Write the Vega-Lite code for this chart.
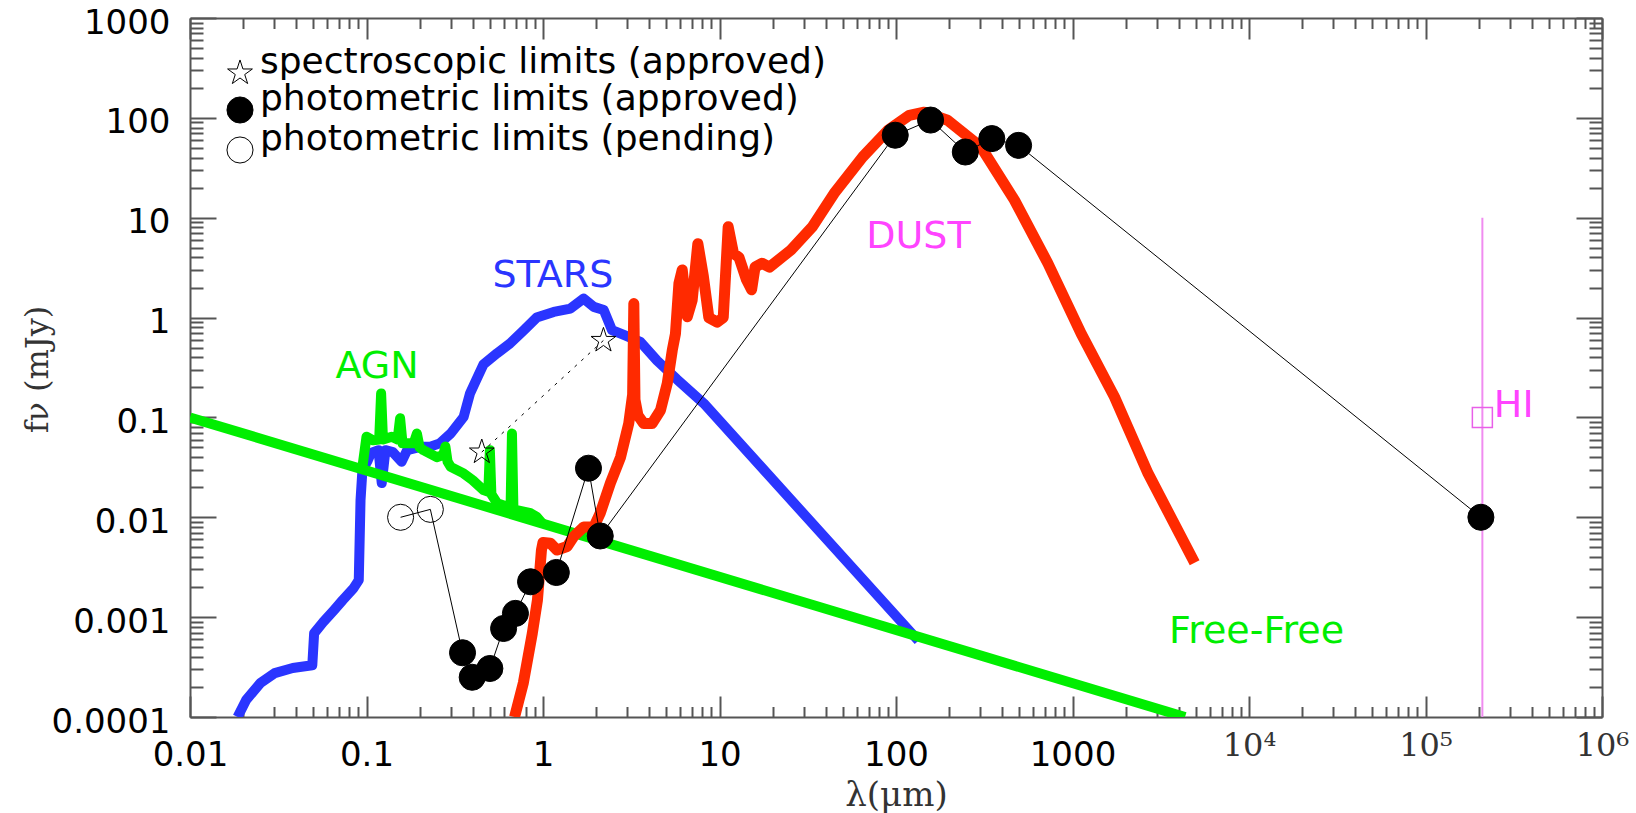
{
  "$schema": "https://vega.github.io/schema/vega-lite/v6.json",
  "width": 1412,
  "height": 699,
  "autosize": {"type": "none"},
  "padding": {"left": 190, "top": 18, "right": 34, "bottom": 96},
  "background": "white",
  "config": {
    "view": {"stroke": null},
    "axis": {"grid": false, "tickColor": "#555555", "tickWidth": 2, "domainColor": "#555555", "domainWidth": 2, "labelOverlap": false, "labelFlush": false, "labelBound": false}
  },
  "datasets": {
    "blue": [
      {"lam": 0.0186, "f": 0.0001}, {"lam": 0.0208, "f": 0.000148}, {"lam": 0.025, "f": 0.000218}, {"lam": 0.0302, "f": 0.000275},
      {"lam": 0.0382, "f": 0.00031}, {"lam": 0.0493, "f": 0.00033}, {"lam": 0.0505, "f": 0.00069}, {"lam": 0.0568, "f": 0.00089},
      {"lam": 0.0653, "f": 0.00117}, {"lam": 0.0733, "f": 0.00148}, {"lam": 0.0843, "f": 0.00194}, {"lam": 0.0904, "f": 0.00235},
      {"lam": 0.0925, "f": 0.0148}, {"lam": 0.0948, "f": 0.0295}, {"lam": 0.1016, "f": 0.037}, {"lam": 0.106, "f": 0.044},
      {"lam": 0.117, "f": 0.047}, {"lam": 0.122, "f": 0.022}, {"lam": 0.128, "f": 0.047}, {"lam": 0.141, "f": 0.045},
      {"lam": 0.158, "f": 0.036}, {"lam": 0.17, "f": 0.047}, {"lam": 0.205, "f": 0.051}, {"lam": 0.23, "f": 0.051},
      {"lam": 0.26, "f": 0.055}, {"lam": 0.3, "f": 0.069}, {"lam": 0.355, "f": 0.101}, {"lam": 0.386, "f": 0.174},
      {"lam": 0.42, "f": 0.24}, {"lam": 0.46, "f": 0.34}, {"lam": 0.55, "f": 0.44}, {"lam": 0.65, "f": 0.55},
      {"lam": 0.78, "f": 0.75}, {"lam": 0.92, "f": 1.0}, {"lam": 1.15, "f": 1.14}, {"lam": 1.43, "f": 1.23},
      {"lam": 1.7, "f": 1.55}, {"lam": 1.94, "f": 1.28}, {"lam": 2.21, "f": 1.19}, {"lam": 2.46, "f": 0.75},
      {"lam": 2.87, "f": 0.67}, {"lam": 3.56, "f": 0.57}, {"lam": 4.43, "f": 0.37}, {"lam": 5.75, "f": 0.24},
      {"lam": 8.15, "f": 0.138}, {"lam": 134, "f": 0.00058}
    ],
    "agn": [
      {"lam": 0.0948, "f": 0.032}, {"lam": 0.1, "f": 0.064}, {"lam": 0.109, "f": 0.059}, {"lam": 0.118, "f": 0.06},
      {"lam": 0.121, "f": 0.174}, {"lam": 0.124, "f": 0.06}, {"lam": 0.139, "f": 0.064}, {"lam": 0.15, "f": 0.06},
      {"lam": 0.155, "f": 0.098}, {"lam": 0.16, "f": 0.055}, {"lam": 0.185, "f": 0.055}, {"lam": 0.193, "f": 0.069},
      {"lam": 0.2, "f": 0.05}, {"lam": 0.21, "f": 0.047}, {"lam": 0.25, "f": 0.04}, {"lam": 0.272, "f": 0.042},
      {"lam": 0.28, "f": 0.051}, {"lam": 0.288, "f": 0.036}, {"lam": 0.3, "f": 0.032}, {"lam": 0.355, "f": 0.0275},
      {"lam": 0.4, "f": 0.0235}, {"lam": 0.46, "f": 0.0187}, {"lam": 0.49, "f": 0.018}, {"lam": 0.5, "f": 0.047},
      {"lam": 0.51, "f": 0.017}, {"lam": 0.55, "f": 0.0138}, {"lam": 0.655, "f": 0.0125}, {"lam": 0.667, "f": 0.069},
      {"lam": 0.68, "f": 0.012}, {"lam": 0.71, "f": 0.0118}, {"lam": 0.85, "f": 0.011}, {"lam": 0.92, "f": 0.0101},
      {"lam": 1.0, "f": 0.0085}
    ],
    "ff": [
      {"lam": 0.01, "f": 0.1}, {"lam": 4340, "f": 0.0001}
    ],
    "dust": [
      {"lam": 0.69, "f": 0.0001}, {"lam": 0.774, "f": 0.00022}, {"lam": 0.87, "f": 0.00069}, {"lam": 0.93, "f": 0.00148},
      {"lam": 0.98, "f": 0.0047}, {"lam": 1.0, "f": 0.0056}, {"lam": 1.1, "f": 0.0055}, {"lam": 1.2, "f": 0.0047},
      {"lam": 1.37, "f": 0.0051}, {"lam": 1.49, "f": 0.0064}, {"lam": 1.7, "f": 0.008}, {"lam": 1.94, "f": 0.008},
      {"lam": 2.11, "f": 0.011}, {"lam": 2.41, "f": 0.022}, {"lam": 2.75, "f": 0.04}, {"lam": 3.06, "f": 0.087},
      {"lam": 3.22, "f": 0.17}, {"lam": 3.27, "f": 1.38}, {"lam": 3.32, "f": 0.15}, {"lam": 3.45, "f": 0.105},
      {"lam": 3.72, "f": 0.087}, {"lam": 4.15, "f": 0.087}, {"lam": 4.63, "f": 0.118}, {"lam": 5.06, "f": 0.22},
      {"lam": 5.4, "f": 0.47}, {"lam": 5.63, "f": 0.69}, {"lam": 5.89, "f": 2.2}, {"lam": 6.15, "f": 3.0},
      {"lam": 6.57, "f": 1.02}, {"lam": 7.0, "f": 1.49}, {"lam": 7.54, "f": 5.5}, {"lam": 8.1, "f": 2.6},
      {"lam": 8.7, "f": 1.0}, {"lam": 9.7, "f": 0.9}, {"lam": 10.5, "f": 1.0}, {"lam": 11.2, "f": 8.1},
      {"lam": 12.0, "f": 4.4}, {"lam": 12.9, "f": 4.0}, {"lam": 14.2, "f": 2.4}, {"lam": 15.2, "f": 1.9},
      {"lam": 15.9, "f": 3.2}, {"lam": 17.4, "f": 3.5}, {"lam": 19.2, "f": 3.2}, {"lam": 25.4, "f": 4.75},
      {"lam": 33.6, "f": 8.1}, {"lam": 44.6, "f": 17.5}, {"lam": 64.8, "f": 40.7}, {"lam": 90, "f": 75},
      {"lam": 119, "f": 106}, {"lam": 144.5, "f": 114}, {"lam": 196, "f": 94.6}, {"lam": 303, "f": 51},
      {"lam": 469, "f": 15}, {"lam": 725, "f": 3.5}, {"lam": 1120, "f": 0.69}, {"lam": 1730, "f": 0.16},
      {"lam": 2680, "f": 0.0275}, {"lam": 4920, "f": 0.0035}
    ],
    "pts": [
      {"lam": 0.45, "f": 0.045, "kind": "spectroscopic limits (approved)"},
      {"lam": 2.2, "f": 0.59, "kind": "spectroscopic limits (approved)"},
      {"lam": 0.156, "f": 0.01, "kind": "photometric limits (pending)"},
      {"lam": 0.23, "f": 0.012, "kind": "photometric limits (pending)"},
      {"lam": 0.35, "f": 0.00044, "kind": "photometric limits (approved)"},
      {"lam": 0.397, "f": 0.00025, "kind": "photometric limits (approved)"},
      {"lam": 0.5, "f": 0.000306, "kind": "photometric limits (approved)"},
      {"lam": 0.598, "f": 0.00077, "kind": "photometric limits (approved)"},
      {"lam": 0.698, "f": 0.00109, "kind": "photometric limits (approved)"},
      {"lam": 0.85, "f": 0.00226, "kind": "photometric limits (approved)"},
      {"lam": 1.19, "f": 0.0028, "kind": "photometric limits (approved)"},
      {"lam": 1.81, "f": 0.031, "kind": "photometric limits (approved)"},
      {"lam": 2.11, "f": 0.0065, "kind": "photometric limits (approved)"},
      {"lam": 99, "f": 67, "kind": "photometric limits (approved)"},
      {"lam": 157, "f": 95, "kind": "photometric limits (approved)"},
      {"lam": 247, "f": 45.5, "kind": "photometric limits (approved)"},
      {"lam": 349, "f": 62, "kind": "photometric limits (approved)"},
      {"lam": 495, "f": 53, "kind": "photometric limits (approved)"},
      {"lam": 206000, "f": 0.01, "kind": "photometric limits (approved)"}
    ],
    "hi": [{"lam": 210000, "f": 10, "f2": 0.0001}],
    "hisq": [{"lam": 210000, "f": 0.1}],
    "labels": [
      {"text": "STARS", "comp": "stars", "lam": 1.137, "f": 2.03},
      {"text": "AGN", "comp": "agn", "lam": 0.1148, "f": 0.249},
      {"text": "DUST", "comp": "dust", "lam": 134, "f": 4.92},
      {"text": "Free-Free", "comp": "ff", "lam": 11040, "f": 0.000555},
      {"text": "HI", "comp": "hi", "lam": 316000, "f": 0.1}
    ]
  },
  "resolve": {"axis": {"x": "independent", "y": "independent"}},
  "layer": [
    {
      "data": {"name": "blue"},
      "mark": {"type": "line", "color": "#2a35ff", "strokeWidth": 10, "strokeJoin": "round", "clip": true},
      "encoding": {
        "x": {"field": "lam", "type": "quantitative", "scale": {"type": "log", "domain": [0.01, 1000000], "nice": false},
          "axis": {"orient": "bottom", "title": null, "labels": false, "domain": false, "tickSize": -10.5,
            "values": [0.02,0.03,0.04,0.05,0.06,0.07,0.08,0.09,0.2,0.3,0.4,0.5,0.6,0.7,0.8,0.9,2,3,4,5,6,7,8,9,20,30,40,50,60,70,80,90,200,300,400,500,600,700,800,900,2000,3000,4000,5000,6000,7000,8000,9000,20000,30000,40000,50000,60000,70000,80000,90000,200000,300000,400000,500000,600000,700000,800000,900000]}},
        "y": {"field": "f", "type": "quantitative", "scale": {"type": "log", "domain": [0.0001, 1000], "nice": false},
          "axis": {"orient": "left", "title": null, "labels": false, "domain": false, "tickSize": -13,
            "values": [0.0002,0.0003,0.0004,0.0005,0.0006,0.0007,0.0008,0.0009,0.002,0.003,0.004,0.005,0.006,0.007,0.008,0.009,0.02,0.03,0.04,0.05,0.06,0.07,0.08,0.09,0.2,0.3,0.4,0.5,0.6,0.7,0.8,0.9,2,3,4,5,6,7,8,9,20,30,40,50,60,70,80,90,200,300,400,500,600,700,800,900]}}
      }
    },
    {
      "data": {"name": "agn"},
      "mark": {"type": "line", "color": "#00ee00", "strokeWidth": 10, "strokeJoin": "round", "clip": true},
      "encoding": {
        "x": {"field": "lam", "type": "quantitative", "scale": {"type": "log", "domain": [0.01, 1000000], "nice": false},
          "axis": {"orient": "bottom", "title": null, "labels": false, "domain": false, "tickSize": -21,
            "values": [0.01,0.1,1,10,100,1000,10000,100000,1000000]}},
        "y": {"field": "f", "type": "quantitative", "scale": {"type": "log", "domain": [0.0001, 1000], "nice": false},
          "axis": {"orient": "left", "title": null, "labels": false, "domain": false, "tickSize": -26,
            "values": [0.0001,0.001,0.01,0.1,1,10,100,1000]}}
      }
    },
    {
      "data": {"name": "ff"},
      "mark": {"type": "line", "color": "#00ee00", "strokeWidth": 10, "clip": true},
      "encoding": {
        "x": {"field": "lam", "type": "quantitative", "scale": {"type": "log", "domain": [0.01, 1000000], "nice": false},
          "axis": {"orient": "top", "title": null, "labels": false, "domain": false, "tickSize": -10.5,
            "values": [0.02,0.03,0.04,0.05,0.06,0.07,0.08,0.09,0.2,0.3,0.4,0.5,0.6,0.7,0.8,0.9,2,3,4,5,6,7,8,9,20,30,40,50,60,70,80,90,200,300,400,500,600,700,800,900,2000,3000,4000,5000,6000,7000,8000,9000,20000,30000,40000,50000,60000,70000,80000,90000,200000,300000,400000,500000,600000,700000,800000,900000]}},
        "y": {"field": "f", "type": "quantitative", "scale": {"type": "log", "domain": [0.0001, 1000], "nice": false},
          "axis": {"orient": "right", "title": null, "labels": false, "domain": false, "tickSize": -13,
            "values": [0.0002,0.0003,0.0004,0.0005,0.0006,0.0007,0.0008,0.0009,0.002,0.003,0.004,0.005,0.006,0.007,0.008,0.009,0.02,0.03,0.04,0.05,0.06,0.07,0.08,0.09,0.2,0.3,0.4,0.5,0.6,0.7,0.8,0.9,2,3,4,5,6,7,8,9,20,30,40,50,60,70,80,90,200,300,400,500,600,700,800,900]}}
      }
    },
    {
      "data": {"name": "dust"},
      "mark": {"type": "line", "color": "#ff2a00", "strokeWidth": 11, "strokeJoin": "round", "clip": true},
      "encoding": {
        "x": {"field": "lam", "type": "quantitative", "scale": {"type": "log", "domain": [0.01, 1000000], "nice": false},
          "axis": {"orient": "top", "title": null, "labels": false, "domain": true, "tickSize": -21,
            "values": [0.01,0.1,1,10,100,1000,10000,100000,1000000]}},
        "y": {"field": "f", "type": "quantitative", "scale": {"type": "log", "domain": [0.0001, 1000], "nice": false},
          "axis": {"orient": "right", "title": null, "labels": false, "domain": true, "tickSize": -26,
            "values": [0.0001,0.001,0.01,0.1,1,10,100,1000]}}
      }
    },
    {
      "data": {"name": "hi"},
      "mark": {"type": "rule", "color": "#f08cf0", "strokeWidth": 2, "clip": true},
      "encoding": {
        "x": {"field": "lam", "type": "quantitative", "scale": {"type": "log", "domain": [0.01, 1000000], "nice": false}, "axis": null},
        "y": {"field": "f", "type": "quantitative", "scale": {"type": "log", "domain": [0.0001, 1000], "nice": false}, "axis": null},
        "y2": {"field": "f2"}
      }
    },
    {
      "data": {"name": "hisq"},
      "mark": {"type": "point", "shape": "square", "size": 400, "filled": false, "stroke": "#e860e8", "strokeWidth": 1.5, "opacity": 1},
      "encoding": {
        "x": {"field": "lam", "type": "quantitative", "scale": {"type": "log", "domain": [0.01, 1000000], "nice": false}, "axis": null},
        "y": {"field": "f", "type": "quantitative", "scale": {"type": "log", "domain": [0.0001, 1000], "nice": false}, "axis": null}
      }
    },
    {
      "data": {"name": "pts"},
      "transform": [{"filter": "datum.kind != 'spectroscopic limits (approved)'"}],
      "mark": {"type": "line", "color": "black", "strokeWidth": 1},
      "encoding": {
        "x": {"field": "lam", "type": "quantitative", "scale": {"type": "log", "domain": [0.01, 1000000], "nice": false},
          "axis": {"orient": "bottom", "values": [0.01,0.1,1,10,100,1000], "ticks": false, "domain": true,
            "labelExpr": "datum.value < 1 ? format(datum.value, '.2~f') : format(datum.value, 'd')",
            "labelFont": "DejaVu Sans", "labelFontSize": 34, "labelColor": "black", "labelPadding": 21,
            "title": "λ(μm)", "titleFont": "DejaVu Serif", "titleFontSize": 34, "titleFontWeight": "normal", "titleColor": "#333333",
            "titleBaseline": "alphabetic", "titleY": 88}},
        "y": {"field": "f", "type": "quantitative", "scale": {"type": "log", "domain": [0.0001, 1000], "nice": false},
          "axis": {"orient": "left", "values": [0.0001,0.001,0.01,0.1,1,10,100,1000], "ticks": false, "domain": true,
            "labelExpr": "datum.value < 1 ? format(datum.value, '.4~f') : format(datum.value, 'd')",
            "labelFont": "DejaVu Sans", "labelFontSize": 34, "labelColor": "black", "labelPadding": 20, "labelOffset": 5,
            "title": "fν (mJy)", "titleFont": "DejaVu Serif", "titleFontSize": 32, "titleFontWeight": "normal", "titleColor": "#333333",
            "titleBaseline": "alphabetic", "titleAngle": 270, "titleX": -143, "titleY": 351}}
      }
    },
    {
      "data": {"name": "pts"},
      "transform": [{"filter": "datum.kind == 'spectroscopic limits (approved)'"}],
      "mark": {"type": "line", "color": "black", "strokeWidth": 1, "strokeDash": [3, 6]},
      "encoding": {
        "x": {"field": "lam", "type": "quantitative", "scale": {"type": "log", "domain": [0.01, 1000000], "nice": false},
          "axis": {"orient": "bottom", "values": [10000,100000,1000000], "ticks": false, "domain": false,
            "labelExpr": "datum.value == 10000 ? '10⁴' : datum.value == 100000 ? '10⁵' : '10⁶'",
            "labelFont": "DejaVu Serif", "labelFontSize": 32, "labelColor": "#333333", "labelPadding": 13, "title": null}},
        "y": {"field": "f", "type": "quantitative", "scale": {"type": "log", "domain": [0.0001, 1000], "nice": false}, "axis": null}
      }
    },
    {
      "data": {"name": "pts"},
      "mark": {"type": "point", "size": 680, "strokeWidth": 1, "opacity": 1},
      "encoding": {
        "x": {"field": "lam", "type": "quantitative", "scale": {"type": "log", "domain": [0.01, 1000000], "nice": false}, "axis": null},
        "y": {"field": "f", "type": "quantitative", "scale": {"type": "log", "domain": [0.0001, 1000], "nice": false}, "axis": null},
        "shape": {"field": "kind", "type": "nominal",
          "scale": {"domain": ["spectroscopic limits (approved)", "photometric limits (approved)", "photometric limits (pending)"],
            "range": ["M0,-1L0.225,-0.309L0.951,-0.309L0.363,0.118L0.588,0.809L0,0.382L-0.588,0.809L-0.363,0.118L-0.951,-0.309L-0.225,-0.309Z", "circle", "circle"]},
          "legend": {"title": null, "orient": "none", "legendX": 32, "legendY": 37, "padding": 0, "labelFont": "DejaVu Sans", "labelFontSize": 36, "labelColor": "black",
            "symbolSize": 680, "symbolStrokeWidth": 1, "labelOffset": 2, "rowPadding": -5, "labelBaseline": "alphabetic", "labelLimit": 0}},
        "fill": {"field": "kind", "type": "nominal",
          "scale": {"domain": ["spectroscopic limits (approved)", "photometric limits (approved)", "photometric limits (pending)"],
            "range": ["transparent", "black", "transparent"]},
          "legend": {"title": null, "orient": "none", "legendX": 32, "legendY": 37, "padding": 0, "labelFont": "DejaVu Sans", "labelFontSize": 36, "labelColor": "black",
            "symbolSize": 680, "symbolStrokeWidth": 1, "labelOffset": 2, "rowPadding": -5, "labelBaseline": "alphabetic", "labelLimit": 0}},
        "stroke": {"field": "kind", "type": "nominal",
          "scale": {"domain": ["spectroscopic limits (approved)", "photometric limits (approved)", "photometric limits (pending)"],
            "range": ["black", "black", "black"]},
          "legend": {"title": null, "orient": "none", "legendX": 32, "legendY": 37, "padding": 0, "labelFont": "DejaVu Sans", "labelFontSize": 36, "labelColor": "black",
            "symbolSize": 680, "symbolStrokeWidth": 1, "labelOffset": 2, "rowPadding": -5, "labelBaseline": "alphabetic", "labelLimit": 0}}
      }
    },
    {
      "data": {"name": "labels"},
      "mark": {"type": "text", "font": "DejaVu Sans", "fontSize": 38, "align": "center", "baseline": "alphabetic"},
      "encoding": {
        "x": {"field": "lam", "type": "quantitative", "scale": {"type": "log", "domain": [0.01, 1000000], "nice": false}, "axis": null},
        "y": {"field": "f", "type": "quantitative", "scale": {"type": "log", "domain": [0.0001, 1000], "nice": false}, "axis": null},
        "text": {"field": "text"},
        "color": {"field": "comp", "type": "nominal", "legend": null,
          "scale": {"domain": ["stars", "agn", "dust", "ff", "hi"], "range": ["#2a35ff", "#00ee00", "#ff44ff", "#00ee00", "#ff44ff"]}}
      }
    }
  ]
}
